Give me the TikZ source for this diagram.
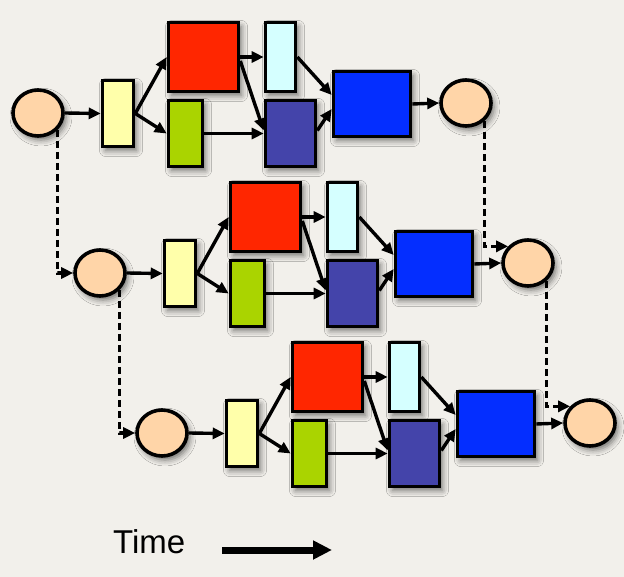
\documentclass[tikz,border=0pt]{standalone}
\usepackage{fontspec}
\setmainfont{Liberation Sans}
\usetikzlibrary{arrows.meta,shapes.geometric,shadows.blur,calc}
\definecolor{bg}{RGB}{242,240,235}
\definecolor{peach}{RGB}{255,213,168}
\definecolor{pyellow}{RGB}{255,255,170}
\definecolor{pred}{RGB}{255,38,0}
\definecolor{pgreen}{RGB}{170,212,0}
\definecolor{pcyan}{RGB}{213,255,255}
\definecolor{pslate}{RGB}{68,68,170}
\definecolor{pblue}{RGB}{4,46,255}
\begin{document}
\begin{tikzpicture}[x=1pt,y=-1pt,
  box/.style={draw=black, line width=3.6pt, inner sep=0pt,
    blur shadow={shadow xshift=3pt,shadow yshift=-4pt,shadow blur radius=6pt,shadow opacity=55}},
  circ/.style={box, ellipse, fill=peach, minimum width=50pt, minimum height=46pt},
  ybox/.style={box, rectangle, fill=pyellow, minimum width=31pt, minimum height=66pt},
  rbox/.style={box, rectangle, fill=pred, minimum width=70pt, minimum height=69pt},
  gbox/.style={box, rectangle, fill=pgreen, minimum width=34pt, minimum height=66pt},
  cbox/.style={box, rectangle, fill=pcyan, minimum width=30pt, minimum height=69pt},
  sbox/.style={box, rectangle, fill=pslate, minimum width=50pt, minimum height=66pt},
  bbox/.style={box, rectangle, fill=pblue, minimum width=77pt, minimum height=65pt},
  conn/.style={line width=3.4pt, -{Triangle[length=12pt,width=11pt]}},
  dconn/.style={line width=3.4pt, draw=black, dash pattern=on 7pt off 4pt,
    -{Triangle[length=12pt,width=11pt]}},
  timearrow/.style={line width=7pt, -{Triangle[length=19pt,width=18pt]}}
]
\fill[bg] (0,0) rectangle (624,577);
\useasboundingbox (0,0) rectangle (624,577);

\foreach \i in {0,1,2}{
  \begin{scope}[shift={(62*\i,160*\i)}]
    \node[circ] (c\i)  at (38,113) {};
    \node[ybox] (yl\i) at (118,113.5) {};
    \node[rbox] (rd\i) at (203.5,57) {};
    \node[gbox] (gr\i) at (185.5,133.5) {};
    \node[cbox] (cy\i) at (280.5,57) {};
    \node[sbox] (sl\i) at (290.5,133.5) {};
    \node[bbox] (bl\i) at (372,104) {};
    \node[circ] (e\i)  at (466,103) {};
  \end{scope}
  \draw[conn] (c\i.east) -- (yl\i.west);
  \draw[conn] (yl\i.east) -- (rd\i.west);
  \draw[conn] (yl\i.east) -- (gr\i.west);
  \draw[conn] (rd\i.east) -- (cy\i.west);
  \draw[conn] ([yshift=-4pt]rd\i.east) -- ([yshift=3pt]sl\i.west);
  \draw[conn] (gr\i.east) -- (sl\i.west);
  \draw[conn] (cy\i.east) -- ([yshift=9pt]bl\i.west);
  \draw[conn] ([yshift=3pt]sl\i.east) -- ([yshift=-5pt]bl\i.west);
  \draw[conn] (bl\i.east) -- (e\i.west);
}

\draw[dconn] (c0.-41) |- (c1.west);
\draw[dconn] (c1.-41) |- (c2.west);
\draw[dconn] (e0.-45) |- (e1.140);
\draw[dconn] (e1.-45) |- (e2.140);

\node[anchor=base west, inner sep=0pt, font=\fontsize{33}{33}\selectfont] (time) at (113,553) {Time};
\coordinate (ts) at (222,550);
\coordinate (te) at (332,550);
\draw[timearrow] (ts) -- (te);
\end{tikzpicture}
\end{document}
